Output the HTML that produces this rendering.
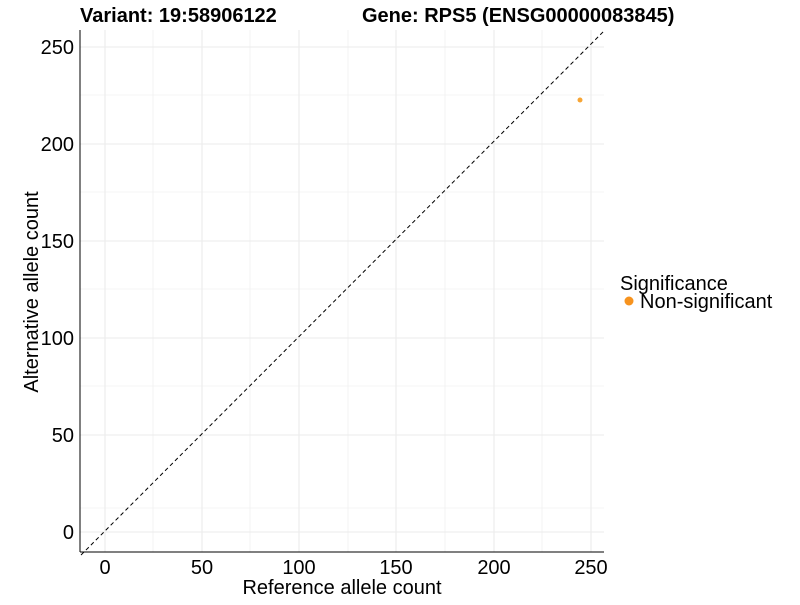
<!DOCTYPE html><html><head><style>body{margin:0;background:#fff}</style></head><body>
<svg width="800" height="600" xmlns="http://www.w3.org/2000/svg" font-family="Liberation Sans, sans-serif">
<g stroke="#ebebeb" stroke-width="0.6">
<line x1="80" x2="604" y1="508" y2="508"/><line x1="80" x2="604" y1="386" y2="386"/><line x1="80" x2="604" y1="289" y2="289"/><line x1="80" x2="604" y1="192" y2="192"/><line x1="80" x2="604" y1="95" y2="95"/>
<line y1="30" y2="552" x1="153" x2="153"/><line y1="30" y2="552" x1="250" x2="250"/><line y1="30" y2="552" x1="348" x2="348"/><line y1="30" y2="552" x1="445" x2="445"/><line y1="30" y2="552" x1="542" x2="542"/>
</g>
<g stroke="#ebebeb" stroke-width="1.1">
<line x1="80" x2="604" y1="532" y2="532"/><line x1="80" x2="604" y1="435" y2="435"/><line x1="80" x2="604" y1="338" y2="338"/><line x1="80" x2="604" y1="241" y2="241"/><line x1="80" x2="604" y1="144" y2="144"/><line x1="80" x2="604" y1="47" y2="47"/>
<line y1="30" y2="552" x1="105" x2="105"/><line y1="30" y2="552" x1="202" x2="202"/><line y1="30" y2="552" x1="299" x2="299"/><line y1="30" y2="552" x1="396" x2="396"/><line y1="30" y2="552" x1="494" x2="494"/><line y1="30" y2="552" x1="591" x2="591"/>
</g>
<line x1="81" y1="555" x2="604" y2="31" stroke="#000" stroke-width="1" stroke-dasharray="4,3"/>
<circle cx="580" cy="100" r="2.5" fill="#f7a535"/>
<line x1="80" y1="30" x2="80" y2="552" stroke="#000" stroke-width="1"/>
<line x1="80" y1="552" x2="604" y2="552" stroke="#000" stroke-width="1"/>
<g font-size="20" fill="#000" text-anchor="end">
<text x="74" y="539">0</text><text x="74" y="442">50</text><text x="74" y="345">100</text><text x="74" y="248">150</text><text x="74" y="151">200</text><text x="74" y="54">250</text>
</g>
<g font-size="20" fill="#000" text-anchor="middle">
<text x="105" y="574">0</text><text x="202" y="574">50</text><text x="299" y="574">100</text><text x="396" y="574">150</text><text x="494" y="574">200</text><text x="591" y="574">250</text>
<text x="342" y="594">Reference allele count</text>
<text transform="translate(38,292) rotate(-90)">Alternative allele count</text>
</g>
<g font-size="20" font-weight="bold"><text x="80" y="22">Variant: 19:58906122</text><text x="362" y="22">Gene: RPS5 (ENSG00000083845)</text></g>
<text x="620" y="290" font-size="20">Significance</text>
<circle cx="629" cy="301" r="4.5" fill="#f7931e"/>
<text x="640" y="308" font-size="20">Non-significant</text>
</svg></body></html>
